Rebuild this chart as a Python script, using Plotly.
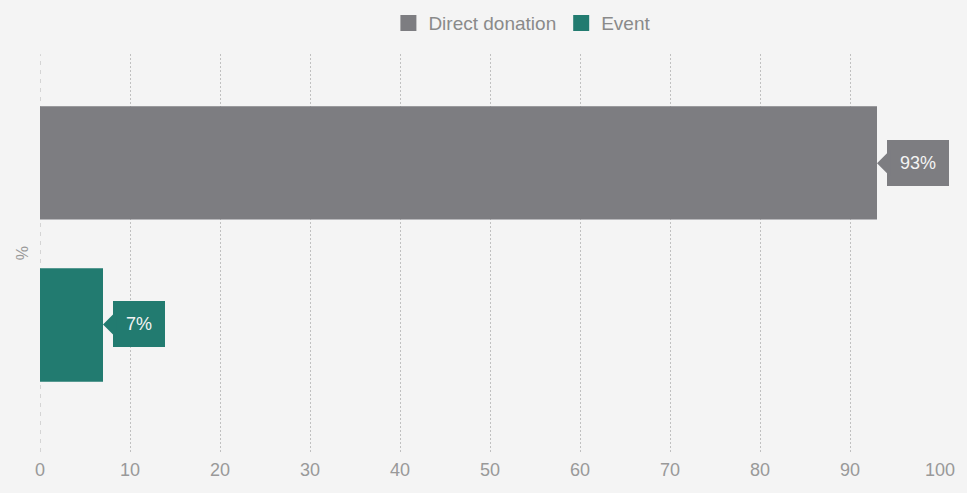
import plotly.graph_objects as go

series_names = ["Direct donation", "Event"]
series_values = [93, 7]
series_colors = ["#7d7d81", "#227b70"]
category = [0]
x_ticks = [0, 10, 20, 30, 40, 50, 60, 70, 80, 90, 100]

FONT = "Liberation Sans, Arial, Helvetica, sans-serif"

fig = go.Figure()
for name, val, col in zip(series_names, series_values, series_colors):
    fig.add_trace(go.Bar(
        x=[val], y=category, name=name, orientation="h",
        marker=dict(color=col, line=dict(width=0)),
        hoverinfo="skip", showlegend=False,
    ))
# legend entries with larger square symbols
for name, col in zip(series_names, series_colors):
    fig.add_trace(go.Scatter(
        x=[None], y=[None], mode="markers", name=name,
        marker=dict(symbol="square", size=18, color=col),
        showlegend=True, hoverinfo="skip",
    ))

offsets = [-0.2025, 0.2025]
for val, col, off in zip(series_values, series_colors, offsets):
    fig.add_annotation(
        x=val, y=category[0] + off, xref="x", yref="y",
        text=f"{val}%", showarrow=True,
        ax=10, ay=0, axref="pixel", ayref="pixel",
        xanchor="left", yanchor="middle",
        arrowhead=1, arrowwidth=3, arrowsize=1.5, arrowcolor=col,
        standoff=0, startstandoff=0,
        bgcolor=col, bordercolor=col, borderwidth=1, borderpad=12,
        font=dict(family=FONT, size=18, color="#f4f4f4"),
    )

# dashed zero axis line
fig.add_shape(type="line", xref="x", yref="paper", x0=0, x1=0, y0=0, y1=1,
              line=dict(color="#b4b4b4", width=1, dash="4px,5px"), layer="below")

fig.update_layout(
    width=967, height=493,
    paper_bgcolor="#f4f4f4", plot_bgcolor="#f4f4f4",
    margin=dict(l=40, r=27, t=47, b=41),
    barmode="group", bargap=0.185, bargroupgap=0.3,
    font=dict(family=FONT, color="#8c8c8c"),
    legend=dict(orientation="h", x=0.536, xanchor="center",
                yref="container", y=0.953, yanchor="middle",
                font=dict(size=19, color="#8a8a8a", family=FONT), itemwidth=30,
                bgcolor="rgba(0,0,0,0)", tracegroupgap=0),
    showlegend=True,
)
fig.update_xaxes(
    range=[0, 100], tickvals=x_ticks, showgrid=True, gridcolor="#c0c0c0",
    griddash="2px,2px", gridwidth=1, zeroline=False, showline=False,
    tickfont=dict(size=18, color="#999999", family=FONT), ticks="", ticklen=0,
    ticklabelstandoff=5, fixedrange=True,
)
fig.update_yaxes(
    range=[0.523, -0.477], showticklabels=False, showgrid=False, zeroline=False,
    showline=False,
    title=dict(text="%", font=dict(size=16, color="#999999", family=FONT), standoff=6),
    fixedrange=True,
)
fig.write_html("out.html", config={"displayModeBar": False},
               post_script="document.body.style.margin='0';")
